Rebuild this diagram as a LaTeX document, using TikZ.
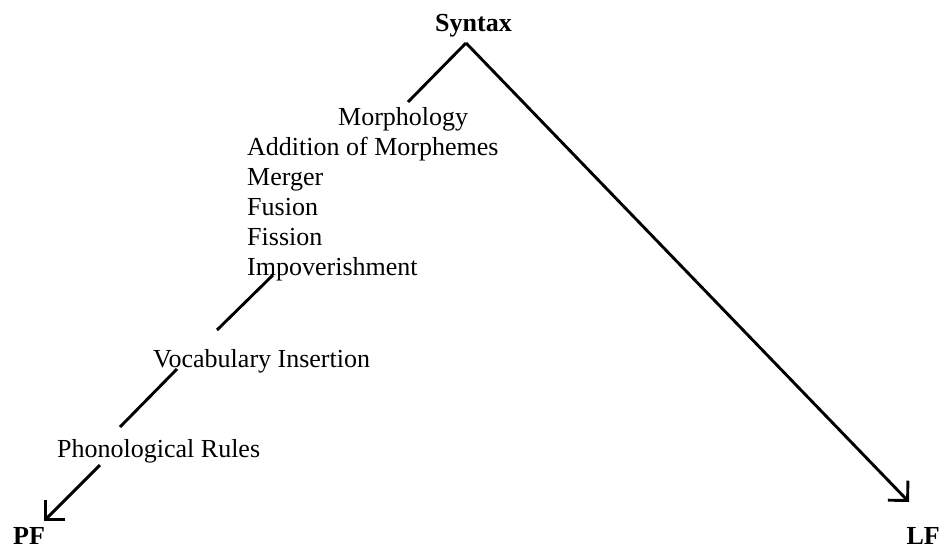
\documentclass[tikz,border=0pt]{standalone}
\usepackage{fontspec}
\setmainfont{Liberation Serif}
\usetikzlibrary{arrows.meta}
\begin{document}
\begin{tikzpicture}[x=1pt,y=-1pt,
  lbl/.style={anchor=base west,inner sep=0pt,font=\fontsize{26}{30}\selectfont},
  blbl/.style={lbl,font=\fontsize{26}{30}\selectfont\bfseries},
  ln/.style={line width=2.9pt},
  barb/.style={ln,-{Straight Barb[length=14pt,width=28pt]}}]
\useasboundingbox (0,0) rectangle (943,549);
% texts
\node[blbl] (syn) at (435,31) {Syntax};
\node[lbl] (morph) at (338,125) {Morphology};
\node[lbl] (add) at (247,155) {Addition of Morphemes};
\node[lbl] (merg) at (247,185) {Merger};
\node[lbl] (fus) at (247,215) {Fusion};
\node[lbl] (fis) at (247,245) {Fission};
\node[lbl] (imp) at (247,275) {Impoverishment};
\node[lbl] (voc) at (153,367) {Vocabulary Insertion};
\node[lbl] (pho) at (57,457) {Phonological Rules};
\node[blbl] (pf) at (13,544) {PF};
\node[blbl,anchor=base east] (lf) at (940,544) {LF};
% line end points
\coordinate (apex) at (466,43);
\coordinate (m1) at (408,102);
\coordinate (i1) at (273,275);
\coordinate (i2) at (217,330);
\coordinate (v1) at (177,369);
\coordinate (v2) at (120,427);
\coordinate (p1) at (100,465);
\coordinate (pftip) at (44,521);
\coordinate (lftip) at (909,502);
% connectors
\draw[ln] (apex) -- (m1);
\draw[barb] (apex) -- (lftip);
\draw[ln] (i1) -- (i2);
\draw[ln] (v1) -- (v2);
\draw[barb] (p1) -- (pftip);
\end{tikzpicture}
\end{document}
